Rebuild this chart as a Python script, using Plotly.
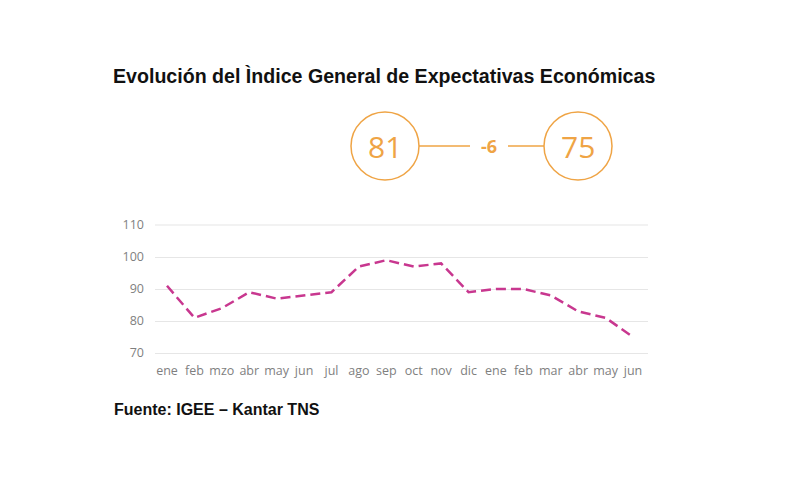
import plotly.graph_objects as go

# ---- data ----
months = ["ene", "feb", "mzo", "abr", "may", "jun", "jul", "ago", "sep",
          "oct", "nov", "dic", "ene", "feb", "mar", "abr", "may", "jun"]
values = [91, 81, 84, 89, 87, 88, 89, 97, 99, 97, 98, 89, 90, 90, 88, 83, 81, 75]
y_ticks = [70, 80, 90, 100, 110]
start_value = 81
end_value = 75
change_label = "-6"
title_text = "Evolución del Ìndice General de Expectativas Económicas"
source_text = "Fuente: IGEE – Kantar TNS"

# ---- layout geometry (page pixels) ----
OFF = 8                      # page body margin
W, H = 810 - 2 * OFF, 492 - 2 * OFF
PL, PR, PT, PB = 155, 648, 225, 353   # plot area in page pixels


def px(x):
    return (x - PL) / (PR - PL)


def py(y):
    return (PB - y) / (PB - PT)


ORANGE = "#EFA445"
MAGENTA = "#C8378F"
GRID = "#E6E6E6"

x_idx = list(range(len(months)))

fig = go.Figure()
fig.add_trace(go.Scatter(
    x=x_idx, y=values, mode="lines",
    line=dict(color=MAGENTA, width=2.5, dash="10px,5px"),
    hoverinfo="skip", showlegend=False,
))

shapes = []
# circles
r = 34
for cx in (385, 578):
    shapes.append(dict(type="circle", xref="paper", yref="paper",
                       x0=px(cx - r), x1=px(cx + r), y0=py(146 + r), y1=py(146 - r),
                       line=dict(color=ORANGE, width=1.5)))
# connector lines
for x0, x1 in ((419, 470), (508, 544)):
    shapes.append(dict(type="line", xref="paper", yref="paper",
                       x0=px(x0), x1=px(x1), y0=py(146), y1=py(146),
                       line=dict(color=ORANGE, width=1.5)))

annotations = [
    dict(text=f"<b>{title_text}</b>", xref="paper", yref="paper",
         x=px(384), y=py(76), showarrow=False, xanchor="center", yanchor="middle",
         font=dict(family="Liberation Sans, Arial", size=19.6, color="#111111")),
    dict(text=str(start_value), xref="paper", yref="paper",
         x=px(385), y=py(146), showarrow=False, xanchor="center", yanchor="middle",
         font=dict(family="Open Sans", size=30, color=ORANGE)),
    dict(text=str(end_value), xref="paper", yref="paper",
         x=px(578), y=py(146), showarrow=False, xanchor="center", yanchor="middle",
         font=dict(family="Open Sans", size=30, color=ORANGE)),
    dict(text=f"<b>{change_label}</b>", xref="paper", yref="paper",
         x=px(489), y=py(146), showarrow=False, xanchor="center", yanchor="middle",
         font=dict(family="Open Sans", size=18, color=ORANGE)),
    dict(text=f"<b>{source_text}</b>", xref="paper", yref="paper",
         x=px(112), y=py(409), showarrow=False, xanchor="left", yanchor="middle",
         font=dict(family="Liberation Sans, Arial", size=16, color="#111111")),
]

step = (633 - 167) / 17
fig.update_layout(
    width=W, height=H,
    margin=dict(l=PL - OFF, r=W + OFF - PR, t=PT - OFF, b=H + OFF - PB, pad=0),
    paper_bgcolor="white", plot_bgcolor="white",
    shapes=shapes, annotations=annotations,
    xaxis=dict(
        range=[-(167 - PL) / step, 17 + (PR - 633) / step],
        tickvals=x_idx, ticktext=months, showgrid=False, zeroline=False,
        showline=True, linecolor=GRID, linewidth=1.2, ticks="", ticklabelstandoff=6,
        tickfont=dict(family="Open Sans", size=12.5, color="#7F7F7F"),
    ),
    yaxis=dict(
        range=[70, 110], tickvals=y_ticks, showgrid=True, gridcolor=GRID,
        gridwidth=1.2, zeroline=False, showline=False, ticks="", ticklabelstandoff=10,
        tickfont=dict(family="Open Sans", size=12.5, color="#7F7F7F"),
        layer="below traces",
    ),
)
fig.add_shape(type="line", xref="paper", yref="paper", x0=0, x1=1, y0=1, y1=1,
              line=dict(color=GRID, width=1.2), layer="below")

fig.write_html("out.html")
